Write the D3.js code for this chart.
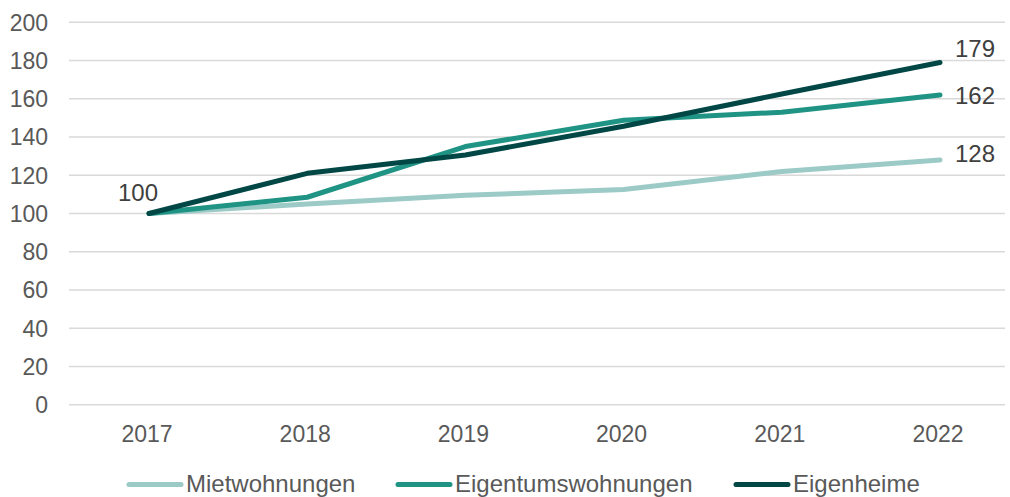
<!DOCTYPE html>
<html><head><meta charset="utf-8">
<script src="https://cdn.jsdelivr.net/npm/d3@7"></script>
<style>body{margin:0;background:#fff}svg{display:block}text{font-family:"Liberation Sans",Arial,sans-serif}</style>
</head><body><svg id="c" width="1010" height="497"></svg>
<script>
const years = ["2017","2018","2019","2020","2021","2022"];
const mietwohnungen = [100, 105, 109.5, 112.5, 122, 128];
const eigentumswohnungen = [100, 108.5, 135, 148.8, 153, 162];
const eigenheime = [100, 121, 130.6, 145.6, 162.5, 179];
const yTicks = [0,20,40,60,80,100,120,140,160,180,200];
const seriesNames = ["Mietwohnungen","Eigentumswohnungen","Eigenheime"];
const colors = ["#9bcac7","#1f9384","#004745"];

const svg = d3.select("#c");
const x = d3.scalePoint().domain(years).range([149, 940]);
const y = d3.scaleLinear().domain([0,200]).range([404.7, 22.3]);
const FS = 23;

// grid
svg.append("g").selectAll("line").data(yTicks).join("line")
  .attr("x1",69).attr("x2",1005).attr("y1",d=>y(d)).attr("y2",d=>y(d))
  .attr("stroke","#d9d9d9").attr("stroke-width",1.5);

// y labels
svg.append("g").selectAll("text").data(yTicks).join("text")
  .attr("x",48).attr("y",d=>y(d)+8.3).attr("text-anchor","end")
  .attr("font-size",FS).attr("fill","#595959").text(d=>d);

// x labels
svg.append("g").selectAll("text").data(years).join("text")
  .attr("x",d=>x(d)-2).attr("y",442.3).attr("text-anchor","middle")
  .attr("font-size",FS).attr("fill","#595959").text(d=>d);

const all = [mietwohnungen, eigentumswohnungen, eigenheime];
const line = d3.line().x((d,i)=>x(years[i])).y(d=>y(d));
all.forEach((s,k)=>{
  svg.append("path").attr("d",line(s)).attr("fill","none")
    .attr("stroke",colors[k]).attr("stroke-width",5)
    .attr("stroke-linecap","round").attr("stroke-linejoin","round");
});

// end labels
const labelDy = [1.7, 9, -5];
all.forEach((s,k)=>{
  const v = s[s.length-1];
  svg.append("text").attr("x",955).attr("y",y(v)+labelDy[k])
    .attr("font-size",24).attr("fill","#404040").text(v);
});
svg.append("text").attr("x",138).attr("y",y(all[2][0])-12.8).attr("text-anchor","middle")
  .attr("font-size",24).attr("fill","#404040").text(all[2][0]);

// legend
const legX = [127, 396, 734];
seriesNames.forEach((n,k)=>{
  svg.append("line").attr("x1",legX[k]+2).attr("x2",legX[k]+54).attr("y1",484.5).attr("y2",484.5)
    .attr("stroke",colors[k]).attr("stroke-width",5).attr("stroke-linecap","round");
  svg.append("text").attr("x",legX[k]+59).attr("y",491.7)
    .attr("font-size",24).attr("fill","#595959").text(n);
});
</script></body></html>
